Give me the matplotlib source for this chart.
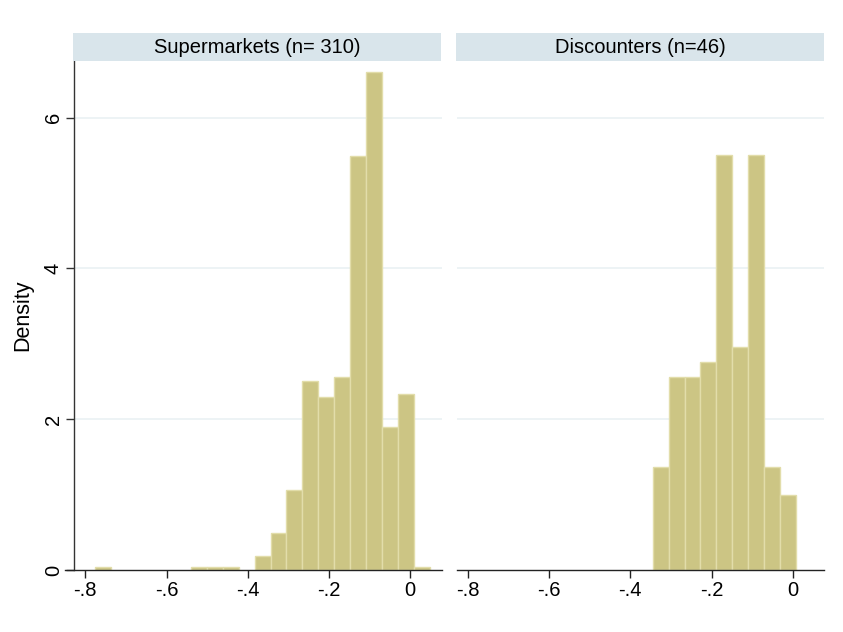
import matplotlib
matplotlib.use("Agg")
import matplotlib.pyplot as plt
from matplotlib.lines import Line2D
import numpy as np

plt.rcParams['font.family'] = ['Liberation Sans', 'DejaVu Sans']

# ---- data ----
panel_titles = ["Supermarkets (n= 310)", "Discounters (n=46)"]
bin_width = 0.03923
super_bin_start = -0.7753
super_density = [0.046, 0, 0, 0, 0, 0, 0.046, 0.046, 0.046, 0, 0.18, 0.49,
                 1.06, 2.51, 2.29, 2.56, 5.49, 6.60, 1.89, 2.34, 0.046]
disc_bin_start = -0.3450
disc_density = [1.37, 2.56, 2.56, 2.76, 5.51, 2.96, 5.51, 1.37, 0.99]
x_ticks = [-0.8, -0.6, -0.4, -0.2, 0.0]
x_ticklabels = ["-.8", "-.6", "-.4", "-.2", "0"]
y_ticks = [0, 2, 4, 6]
y_ticklabels = ["0", "2", "4", "6"]

W, H = 843, 632
fig = plt.figure(figsize=(W / 100, H / 100), dpi=100)

bar_face = '#CCC584'
bar_edge = '#E2DDAA'
grid_col = '#EAF1F3'
strip_col = '#D9E5EB'

panels = [
    (74, 441.7, super_bin_start, super_density),
    (456.7, 824.3, disc_bin_start, disc_density),
]
y_top, y_bot = 61, 570
strips = [(72.7, 441), (456, 824)]

for i, (x0, x1, start, dens) in enumerate(panels):
    ax = fig.add_axes([x0 / W, 1 - y_bot / H, (x1 - x0) / W, (y_bot - y_top) / H])
    dens = np.asarray(dens, dtype=float)
    lefts = start + bin_width * np.arange(len(dens))
    mask = dens > 0
    ax.bar(lefts[mask], dens[mask], width=bin_width, align='edge',
           color=bar_face, edgecolor=bar_edge, linewidth=1.0, zorder=2)
    ax.set_xlim(-0.828, 0.078)
    ax.set_ylim(0, 6.75)
    for yv in y_ticks[1:]:
        ax.axhline(yv, color=grid_col, linewidth=1.2, zorder=0)
    for s in ['top', 'right']:
        ax.spines[s].set_visible(False)
    ax.spines['bottom'].set_visible(False)
    # x axis line
    ext = -0.025 if i == 0 else 0.0
    ax.add_line(Line2D([ext, 1.0], [0, 0], transform=ax.transAxes, color='#222222',
                       linewidth=1.0, clip_on=False, zorder=3))
    ax.set_xticks(x_ticks)
    ax.set_xticklabels(x_ticklabels, fontsize=14.5)
    ax.tick_params(axis='x', length=6, width=1.0, color='#222222', pad=2)
    if i == 0:
        ax.spines['left'].set_color('#333333')
        ax.spines['left'].set_linewidth(1.0)
        ax.set_yticks(y_ticks)
        ax.set_yticklabels(y_ticklabels, fontsize=14.5, rotation=90, va='center')
        ax.tick_params(axis='y', length=6, width=1.0, color='#333333', pad=2)
        ax.set_ylabel("Density", fontsize=15.5, labelpad=8)
    else:
        ax.spines['left'].set_visible(False)
        ax.set_yticks([])
    # strip header
    sx0, sx1 = strips[i]
    sax = fig.add_axes([sx0 / W, 1 - 61 / H, (sx1 - sx0) / W, 28 / H])
    sax.set_facecolor(strip_col)
    sax.set_xticks([])
    sax.set_yticks([])
    for s in sax.spines.values():
        s.set_visible(False)
    sax.text(0.5, 0.48, panel_titles[i], transform=sax.transAxes, ha='center',
             va='center', fontsize=14.5)

fig.savefig("out.png", dpi=100, facecolor='white')
